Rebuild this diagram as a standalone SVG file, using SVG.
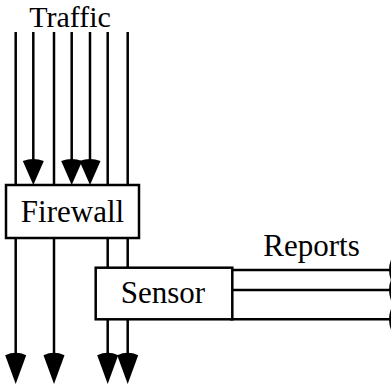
<svg xmlns="http://www.w3.org/2000/svg" width="391" height="385" viewBox="0 0 391 385">
<style>
.ln{stroke:#000;stroke-width:2.5;fill:none}
.box{fill:#fff;stroke:#000;stroke-width:2.5}
.t{font-family:"Liberation Serif","Times New Roman",serif;font-size:31px;fill:#000}
.ah{fill:#000;stroke:none}
</style>
<defs>
<path id="hd" class="ah" d="M0,0 L-10.5,-24 Q0,-28 10.5,-24 Z"/>
</defs>
<text class="t" x="70" y="27" text-anchor="middle" style="font-size:30px">Traffic</text>
<g id="connectors">
<line class="ln" x1="15.7" y1="32" x2="15.7" y2="185"/>
<line class="ln" x1="54" y1="32" x2="54" y2="185"/>
<line class="ln" x1="107.7" y1="32" x2="107.7" y2="185"/>
<line class="ln" x1="127.7" y1="32" x2="127.7" y2="185"/>
<line class="ln" x1="33.3" y1="32" x2="33.3" y2="165"/>
<line class="ln" x1="71.7" y1="32" x2="71.7" y2="165"/>
<line class="ln" x1="90" y1="32" x2="90" y2="165"/>
<use href="#hd" transform="translate(33.3,185)"/>
<use href="#hd" transform="translate(71.7,185)"/>
<use href="#hd" transform="translate(90,185)"/>
<line class="ln" x1="107.7" y1="238" x2="107.7" y2="268"/>
<line class="ln" x1="127.7" y1="238" x2="127.7" y2="268"/>
<line class="ln" x1="15.7" y1="238" x2="15.7" y2="362"/>
<line class="ln" x1="54" y1="238" x2="54" y2="362"/>
<line class="ln" x1="107.7" y1="319" x2="107.7" y2="362"/>
<line class="ln" x1="127.7" y1="319" x2="127.7" y2="362"/>
<use href="#hd" transform="translate(15.7,384) scale(1,1.2)"/>
<use href="#hd" transform="translate(54,384) scale(1,1.2)"/>
<use href="#hd" transform="translate(107.7,384) scale(1,1.2)"/>
<use href="#hd" transform="translate(127.7,384) scale(1,1.2)"/>
<line class="ln" x1="230" y1="270" x2="392" y2="270"/>
<line class="ln" x1="229" y1="290" x2="392" y2="290"/>
<line class="ln" x1="230" y1="319.3" x2="392" y2="319.3"/>
<use href="#hd" transform="translate(415,270) rotate(-90)"/>
<use href="#hd" transform="translate(415,290) rotate(-90)"/>
<use href="#hd" transform="translate(415,319.3) rotate(-90)"/>
</g>
<g id="firewall">
<rect class="box" x="6" y="185" width="133" height="53"/>
<text class="t" x="72.5" y="222" text-anchor="middle">Firewall</text>
</g>
<g id="sensor">
<rect class="box" x="95.7" y="267.7" width="136.6" height="51.6"/>
<text class="t" x="163" y="303.3" text-anchor="middle">Sensor</text>
</g>
<text class="t" x="311.5" y="256" text-anchor="middle">Reports</text>
</svg>
